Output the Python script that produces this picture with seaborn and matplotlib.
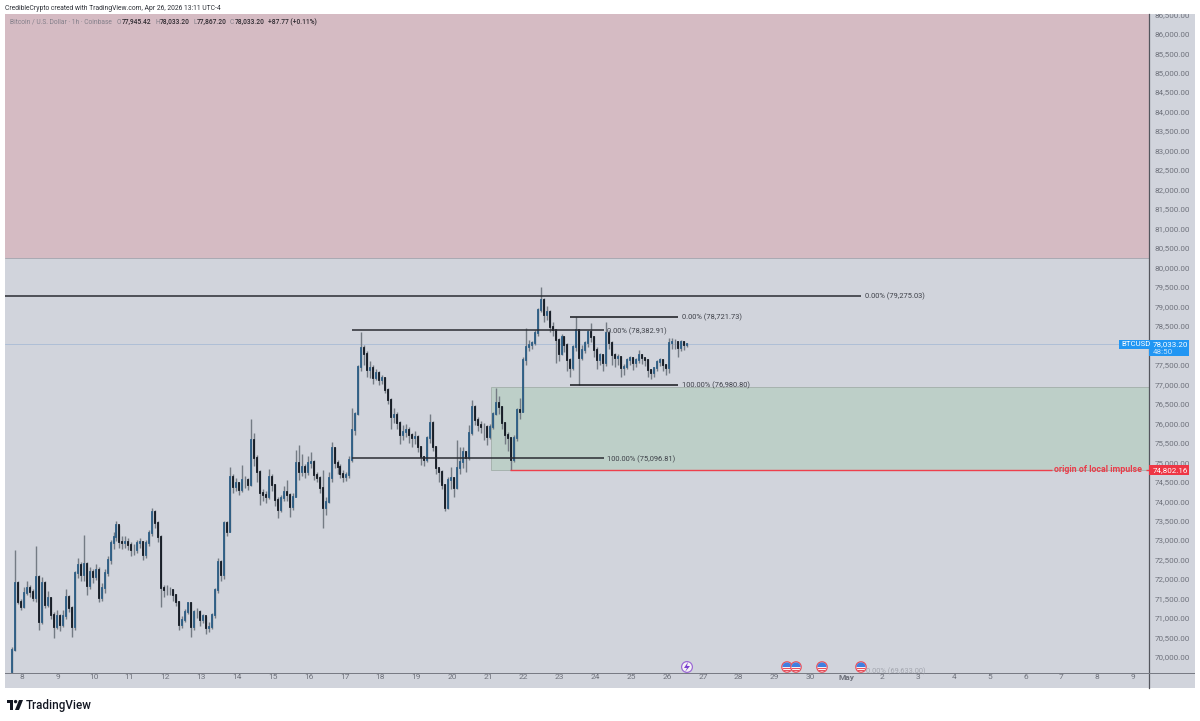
import numpy as np
import pandas as pd
import seaborn as sns
import matplotlib.pyplot as plt
from matplotlib.patches import Rectangle, Circle, Wedge, Polygon
from matplotlib.transforms import Affine2D, Bbox

# 2h candles (open = previous close)
close = [
    70180, 71890, 71420, 71290, 71640, 71760, 71680, 71510, 72060, 70910,
    71890, 71330, 71510, 71080, 70780, 71040, 70820, 71040, 71550, 71250,
    70780, 72150, 72360, 72100, 72400, 71810, 72190, 72060, 72230, 71510,
    71760, 72150, 72490, 72920, 73090, 73390, 72960, 72920, 72960, 72880,
    72750, 72750, 72920, 72960, 72620, 72920, 73180, 73730, 73430, 73090,
    71760, 71720, 71720, 71720, 71590, 71420, 70820, 70950, 71160, 71380,
    70780, 71160, 71160, 70950, 71040, 70740, 70780, 71080, 71720, 72450,
    72100, 73430, 73220, 74630, 74370, 74460, 74290, 74540, 74540, 74420,
    75570, 75100, 74760, 74200, 74160, 74120, 74630, 74420, 74030, 73770,
    74070, 74240, 74160, 73860, 74120, 74970, 74760, 74890, 74760, 74970,
    75010, 74670, 74590, 74330, 73820, 73990, 74590, 75360, 74970, 74890,
    74710, 74630, 74670, 75060, 75830, 76250, 77450, 77920, 77790, 77370,
    77410, 77150, 77280, 77110, 77150, 76850, 76600, 76170, 76210, 76000,
    75700, 75780, 75830, 75700, 75610, 75660, 75400, 75140, 75060, 75610,
    76000, 75400, 74840, 74760, 74420, 73820, 74540, 74590, 74330, 74840,
    75010, 75270, 75100, 75740, 76430, 76080, 75950, 75910, 75910, 75650,
    75910, 76250, 76510, 76430, 76000, 75700, 75610, 75060, 75610, 76340,
    76300, 77620, 77970, 78010, 78050, 78310, 78910, 79160, 78780, 78860,
    78480, 78390, 78140, 77790, 78220, 78010, 77620, 77410, 77970, 78390,
    77670, 77880, 78050, 78350, 78220, 77880, 77620, 77750, 77540, 78310,
    78050, 77750, 77670, 77710, 77410, 77450, 77620, 77670, 77540, 77620,
    77750, 77670, 77620, 77370, 77280, 77410, 77580, 77620, 77490, 77410,
    78050, 78090, 78090, 77920, 78090, 78000, 78033,
]
high = [
    70250, 72750, 71950, 71500, 71800, 71950, 71850, 71750, 72860, 72100,
    72050, 71950, 71700, 71550, 71150, 71200, 71100, 71200, 71750, 71600,
    71300, 72200, 72550, 72450, 73130, 72450, 72300, 72250, 72400, 72300,
    71900, 72250, 72600, 73000, 73200, 73500, 73400, 73100, 73100, 73050,
    72950, 72900, 73000, 73050, 72980, 73000, 73250, 73820, 73780, 73480,
    73120, 71850, 71850, 71800, 71750, 71620, 71450, 71050, 71220, 71420,
    71400, 71200, 71250, 71200, 71100, 71060, 70900, 71120, 71760, 72550,
    72500, 73500, 73480, 74890, 74700, 74600, 74500, 74930, 74650, 74600,
    76120, 75740, 75180, 74800, 74300, 74250, 74820, 74700, 74450, 74100,
    74150, 74400, 74550, 74200, 74200, 75310, 75440, 75200, 74950, 75150,
    75250, 75050, 74750, 74650, 74800, 74100, 74750, 75530, 75400, 75050,
    74950, 74800, 74760, 75150, 76380, 76300, 77500, 78350, 78000, 77850,
    77600, 77500, 77400, 77350, 77250, 77200, 76900, 76650, 76400, 76300,
    76050, 75950, 75980, 75900, 75750, 75800, 75700, 75420, 75170, 75680,
    76250, 76050, 75420, 74860, 74800, 74450, 74620, 74880, 74620, 75570,
    75400, 75400, 75300, 75950, 76600, 76480, 76150, 76050, 76000, 75950,
    75980, 76300, 76900, 76700, 76450, 76020, 75780, 75660, 75700, 76400,
    76650, 77700, 78440, 78150, 78120, 78400, 78950, 79490, 79220, 79000,
    78900, 78600, 78420, 78200, 78280, 78230, 78050, 77680, 78010, 78720,
    78410, 78000, 78120, 78400, 78580, 78250, 77950, 77800, 77780, 78600,
    78400, 78100, 77800, 77780, 77730, 77520, 77670, 77720, 77690, 77680,
    77880, 77790, 77680, 77650, 77400, 77450, 77620, 77680, 77650, 77520,
    78200, 78180, 78170, 78120, 78130, 78110, 78060,
]
low = [
    69600, 70150, 71350, 71200, 71250, 71600, 71550, 71430, 71400, 70690,
    70850, 71250, 71280, 70980, 70480, 70720, 70680, 70780, 70980, 71150,
    70520, 70700, 72020, 71950, 71950, 71590, 71750, 71900, 71980, 71400,
    71450, 71650, 72080, 72400, 72780, 72980, 72800, 72760, 72800, 72750,
    72600, 72620, 72680, 72800, 72500, 72550, 72850, 73100, 73300, 72950,
    71290, 71550, 71600, 71600, 71450, 71300, 70700, 70750, 70900, 71100,
    70520, 70700, 71000, 70800, 70880, 70600, 70650, 70720, 71000, 71650,
    71950, 72000, 73100, 73200, 74200, 74250, 74150, 74230, 74350, 74280,
    74380, 74900, 74500, 73900, 74000, 73950, 74050, 74250, 73880, 73560,
    73720, 74000, 74000, 73600, 73780, 74100, 74550, 74650, 74600, 74680,
    74850, 74550, 74480, 74200, 73300, 73650, 73950, 74500, 74850, 74700,
    74600, 74480, 74520, 74600, 75000, 75700, 76200, 77350, 77500, 77200,
    77150, 77000, 77100, 76980, 77020, 76780, 76500, 75840, 76000, 75850,
    75460, 75580, 75650, 75500, 75400, 75480, 75250, 74920, 74900, 75000,
    75500, 75300, 74700, 74500, 74300, 73760, 73800, 74300, 74120, 74300,
    74700, 74850, 74750, 75050, 75700, 75950, 75800, 75750, 75570, 75450,
    75600, 75850, 76200, 76250, 75850, 75480, 75300, 74800, 75000, 75550,
    76100, 76280, 77500, 77850, 77900, 78000, 78250, 78850, 78600, 78650,
    78350, 78250, 77540, 77600, 77750, 77820, 77350, 77190, 77380, 77850,
    76980, 77620, 77800, 77950, 78080, 77700, 77400, 77500, 77350, 77480,
    77900, 77500, 77450, 77500, 77200, 77250, 77400, 77500, 77380, 77450,
    77550, 77520, 77480, 77200, 77130, 77200, 77330, 77480, 77350, 77250,
    77300, 77900, 77900, 77700, 77850, 77880, 77950,
]
first_open = 69620

price_ticks = list(range(70000, 86501, 500))
day_ticks = list(range(8, 40))
day_labels = [str(d) for d in range(8, 31)] + ["May"] + [str(d) for d in range(2, 10)]

W, H = 1200, 721
BG = "#d1d4dc"
TXT = "#6f727c"

sns.set_theme(style="white")
plt.rcParams["font.family"] = ["Roboto", "DejaVu Sans"]

fig = plt.figure(figsize=(W / 100, H / 100), dpi=100, facecolor="white")
PX = Affine2D().scale(1, -1).translate(0, H)


def day_x(px):
    return 8 + (px - 22) / 35.84


def py(px):
    return 70000 + (657 - px) * 25.67


def ftext(x, y, s, **kw):
    kw.setdefault("va", "center")
    kw.setdefault("ha", "left")
    return fig.text(x, y, s, transform=PX, **kw)


# chart pane, the price scale strip sits to its right
ax = fig.add_axes([5 / W, (H - 688) / H, 1144 / W, 674 / H], facecolor=BG)
fig.add_artist(Rectangle((1149, 14), 46, 674, transform=PX, fc=BG, ec="none", zorder=0))
ax.set_xlim(day_x(5), day_x(1149))
ax.set_ylim(py(688), py(14))

# zones
ax.axhspan(80242, py(14), color="#d5bbc3", lw=0, zorder=1)
ax.axhline(80242, color="#a9a9b2", lw=0.7, zorder=1)
ax.add_patch(Rectangle((day_x(491), 74800), day_x(1149) - day_x(491), 76931 - 74800,
                       fc="#bdcfc8", ec="#a7b3ae", lw=0.7, zorder=1))

# candles as one line per candle
days = 7.72 + np.arange(len(close)) / 12
opens = [first_open] + close[:-1]
wicks = pd.DataFrame({
    "day": np.r_[days, days],
    "price": np.r_[high, low],
    "candle": np.r_[np.arange(len(days)), np.arange(len(days))],
})
sns.lineplot(data=wicks, x="day", y="price", units="candle", estimator=None, color="#747b84",
             lw=1.0, ax=ax, zorder=3, legend=False, solid_capstyle="butt")

bodies = pd.DataFrame({
    "day": np.r_[days, days],
    "price": np.r_[opens, close],
    "candle": np.r_[np.arange(len(days)), np.arange(len(days))],
    "dir": np.r_[np.array(close) >= np.array(opens), np.array(close) >= np.array(opens)],
})
sns.lineplot(data=bodies, x="day", y="price", units="candle", estimator=None, hue="dir",
             palette={True: "#2a5c84", False: "#10161f"}, lw=1.3, ax=ax, zorder=4,
             legend=False, solid_capstyle="projecting")

# fib levels
ax.hlines(79275.03, day_x(5), day_x(861), color="#2a2c33", lw=1.1, zorder=5)
ax.hlines(78382.91, day_x(352), day_x(604), color="#2a2c33", lw=1.1, zorder=5)
ax.hlines(75096.81, day_x(352), day_x(604), color="#2a2c33", lw=1.1, zorder=5)
ax.hlines(78721.73, day_x(570), day_x(678), color="#16181d", lw=1.1, zorder=5)
ax.hlines(76980.80, day_x(570), day_x(678), color="#16181d", lw=1.1, zorder=5)

ax.axhline(78033.20, color="#aebfd6", lw=0.7, zorder=2)
ax.hlines(74802.16, day_x(510), day_x(1052), color="#ee3f4c", lw=1.0, zorder=5)
ax.hlines(74802.16, day_x(1146), day_x(1149), color="#ee3f4c", lw=1.0, zorder=5)

ax.set_xlabel("")
ax.set_ylabel("")
ax.set_xticks(day_ticks)
ax.set_xticklabels(day_labels)
for lab, d in zip(ax.get_xticklabels(), day_labels):
    lab.set_fontweight("bold" if d == "May" else "normal")
ax.tick_params(axis="x", length=0, labelsize=6, labelcolor=TXT, pad=-10)
ax.yaxis.tick_right()
ax.set_yticks(price_ticks)
ax.set_yticklabels([f"{p:,.2f}" for p in price_ticks])
ax.tick_params(axis="y", length=0, labelsize=5.8, labelcolor=TXT, pad=4)
strip = Bbox.from_extents(1149, H - 688, 1195, H - 14)
for lab in ax.get_yticklabels():
    lab.set_va("center_baseline")
    lab.set_clip_box(strip)
    lab.set_clip_on(True)
for s in ["top", "left", "bottom"]:
    ax.spines[s].set_visible(False)
ax.spines["right"].set_color("#54565e")
ax.spines["right"].set_linewidth(0.9)

# separator above the date scale, runs across the price strip as well
fig.add_artist(Rectangle((5, 672.5), 1190, 1, transform=PX, fc="#787b84", ec="none", zorder=5))

# level captions
cap = dict(fontsize=5.4, color="#3d4048", zorder=6)
ftext(865, 296, "0.00% (79,275.03)", **cap)
ftext(682, 317, "0.00% (78,721.73)", **cap)
ftext(607, 331, "0.00% (78,382.91)", **cap)
ftext(682, 385, "100.00% (76,980.80)", **cap)
ftext(607, 459, "100.00% (75,096.81)", **cap)
ftext(866, 671, "0.00% (69,633.00)", fontsize=5.4, color="#a3a6af", zorder=6)
ftext(1054, 470, "origin of local impulse", fontsize=6.4, color="#ea3c4a", fontweight="bold", zorder=6)

# price tags on the scale
fig.add_artist(Rectangle((1149, 465), 40, 10, transform=PX, fc="#ee3645", ec="none", zorder=7))
ftext(1153, 470, "74,802.16", fontsize=5.8, color="white", zorder=8)
fig.add_artist(Rectangle((1149, 340), 40, 16, transform=PX, fc="#2196f3", ec="none", zorder=7))
ftext(1153, 344.5, "78,033.20", fontsize=5.8, color="white", zorder=8)
ftext(1153, 351.5, "48:50", fontsize=5.8, color="#c5e2fb", zorder=8)
fig.add_artist(Rectangle((1119, 340), 30, 9, transform=PX, fc="#2196f3", ec="none", zorder=7))
ftext(1121, 344.5, "BTCUSD", fontsize=5.6, color="white", zorder=8)

# header
ftext(5, 8, "CredibleCrypto created with TradingView.com, Apr 26, 2026 13:11 UTC-4", fontsize=4.9, color="#2e3138")
ftext(10, 22, "Bitcoin / U.S. Dollar · 1h · Coinbase", fontsize=4.8, color="#84808a", zorder=6)
for x, s in [(117, "O"), (155, "H"), (193, "L"), (230, "C")]:
    ftext(x, 22, s, fontsize=4.8, color="#84808a", zorder=6)
for x, s in [(122, "77,945.42"), (160, "78,033.20"), (197, "77,867.20"), (235, "78,033.20"),
             (268, "+87.77 (+0.11%)")]:
    ftext(x, 22, s, fontsize=4.8, color="#2e2a30", fontweight="medium", zorder=6)

# event badges along the bottom
for cx in [787, 796, 822, 861]:
    fig.add_artist(Circle((cx, 667), 5.2, transform=PX, fc="#f4f1f4", ec="#e8505c", lw=0.9, zorder=6))
    fig.add_artist(Wedge((cx, 667), 4.6, 180, 360, transform=PX, fc="#3f7fe0", ec="none", zorder=6))
    fig.add_artist(Rectangle((cx - 4, 668), 8, 1.1, transform=PX, fc="#e8505c", ec="none", zorder=7))
    fig.add_artist(Rectangle((cx - 3.4, 670), 6.8, 0.9, transform=PX, fc="#e8505c", ec="none", zorder=7))
fig.add_artist(Circle((687, 667), 5.4, transform=PX, fc="#f4f1f4", ec="#9d6bd6", lw=0.9, zorder=6))
fig.add_artist(Polygon([(688, 662), (684, 668), (687, 668), (685, 672), (690, 666), (687, 666)],
                       transform=PX, fc="#7a3fd0", ec="none", zorder=7))

# footer logo
fig.add_artist(Polygon([(6.5, 700), (13, 700), (13, 710), (10, 710), (10, 703), (6.5, 703)],
                       transform=PX, fc="#131722", ec="none"))
fig.add_artist(Circle((15.6, 701.6), 1.7, transform=PX, fc="#131722", ec="none"))
fig.add_artist(Polygon([(19, 700), (23, 700), (19, 710), (15, 710)], transform=PX, fc="#131722", ec="none"))
ftext(26, 705.5, "TradingView", fontsize=8.4, color="#131722", fontweight="medium")

fig.savefig("out.png", dpi=100)
